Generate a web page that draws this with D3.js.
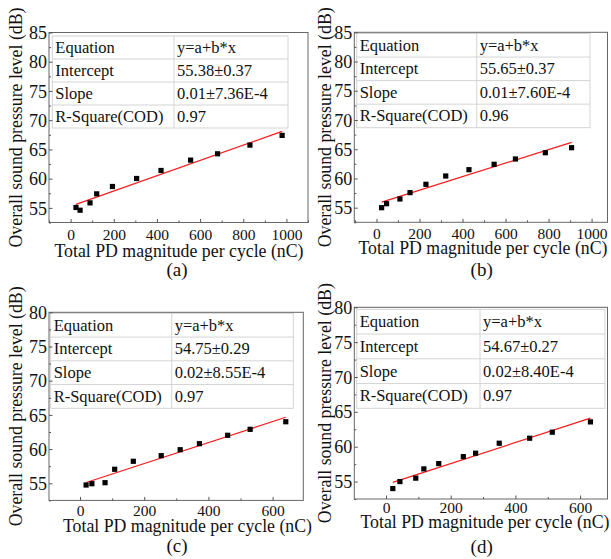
<!DOCTYPE html>
<html><head><meta charset="utf-8">
<script src="https://cdn.jsdelivr.net/npm/d3@7"></script>
<style>html,body{margin:0;padding:0;background:#fff}svg{display:block}</style>
</head><body>
<svg id="chart" width="611" height="559"></svg>
<script>
// ---- data ----
const xA = [25, 44, 90, 121, 194, 306, 419, 556, 681, 831, 980];
const yA = [55.07, 54.6, 55.86, 57.4, 58.66, 60.03, 61.4, 63.17, 64.25, 65.74, 67.4];
const xB = [24, 47, 109, 156, 230, 322, 430, 547, 646, 785, 907];
const yB = [55.0, 55.68, 56.49, 57.57, 59.0, 60.42, 61.5, 62.42, 63.33, 64.4, 65.26];
const xC = [19, 37, 78, 108, 166, 253, 312, 372, 460, 530, 641];
const yC = [54.75, 54.94, 55.09, 57.05, 58.22, 59.04, 59.91, 60.79, 62.02, 62.89, 64.0];
const xD = [21, 43, 92, 117, 163, 239, 277, 350, 444, 514, 632];
const yD = [54.0, 55.0, 55.49, 56.82, 57.58, 58.58, 59.07, 60.5, 61.22, 62.08, 63.56];

const xTicksAB = [0, 200, 400, 600, 800, 1000];
const xTicksCD = [0, 200, 400, 600];
const yTicksAB = [55, 60, 65, 70, 75, 80, 85];
const yTicksCD = [55, 60, 65, 70, 75, 80];

const tableKeys = ["Equation", "Intercept", "Slope", "R-Square(COD)"];
const tableA = ["y=a+b*x", "55.38\u00b10.37", "0.01\u00b17.36E-4", "0.97"];
const tableB = ["y=a+b*x", "55.65\u00b10.37", "0.01\u00b17.60E-4", "0.96"];
const tableC = ["y=a+b*x", "54.75\u00b10.29", "0.02\u00b18.55E-4", "0.97"];
const tableD = ["y=a+b*x", "54.67\u00b10.27", "0.02\u00b18.40E-4", "0.97"];

const panelLabels = ["(a)", "(b)", "(c)", "(d)"];
const xTitle = "Total PD magnitude per cycle (nC)";
const yTitle = "Overall sound pressure level (dB)";

// ---- layout ----
const panels = [
  {xs:xA, ys:yA, xt:xTicksAB, yt:yTicksAB, tbl:tableA, lab:panelLabels[0],
   x0:49, x1:308, y0:32.5, y1:222.5, xd:[-100,1100], yd:[52.5,85], minorX:100,
   tb:{l:52.3,t:36,r:288,b:128,c:174}, tickLabY:17.5, titleY:256.5, titleX:179, yTitleX:22, labX:177, labY:276},
  {xs:xB, ys:yB, xt:xTicksAB, yt:yTicksAB, tbl:tableB, lab:panelLabels[1],
   x0:354.3, x1:607.5, y0:32.3, y1:222.3, xd:[-103,1074], yd:[52.5,85], minorX:100,
   tb:{l:356.7,t:33.5,r:590,b:127.7,c:476.7}, tickLabY:17, titleY:253.5, titleX:483, yTitleX:331, labX:481.7, labY:275.5},
  {xs:xC, ys:yC, xt:xTicksCD, yt:yTicksCD, tbl:tableC, lab:panelLabels[2],
   x0:49, x1:303.3, y0:312.3, y1:500.4, xd:[-96.6,695.6], yd:[52.5,80], minorX:100,
   tb:{l:50.7,t:313.3,r:293.3,b:408.3,c:171.7}, tickLabY:16, titleY:531.5, titleX:187.5, yTitleX:22, labX:177, labY:551.5},
  {xs:xD, ys:yD, xt:xTicksCD, yt:yTicksCD, tbl:tableD, lab:panelLabels[3],
   x0:354.3, x1:607.5, y0:307.3, y1:499, xd:[-98,684.7], yd:[52.5,80], minorX:100,
   tb:{l:356.7,t:309.3,r:605,b:408.3,c:480}, tickLabY:14, titleY:528, titleX:485, yTitleX:331, labX:481.7, labY:553}
];

const FONT = "'Liberation Serif','Times New Roman',serif";
const svg = d3.select("#chart");

function fit(xs, ys) {
  const mx = d3.mean(xs), my = d3.mean(ys);
  let sxy = 0, sxx = 0;
  xs.forEach((x, i) => { sxy += (x - mx) * (ys[i] - my); sxx += (x - mx) * (x - mx); });
  const b = sxy / sxx; return {a: my - b * mx, b};
}

panels.forEach(p => {
  const g = svg.append("g");
  const x = d3.scaleLinear().domain(p.xd).range([p.x0, p.x1]);
  const y = d3.scaleLinear().domain(p.yd).range([p.y1, p.y0]);

  // table (drawn behind data)
  const tb = p.tb, rh = (tb.b - tb.t) / 4;
  const tg = g.append("g");
  tg.append("rect").attr("x", tb.l).attr("y", tb.t).attr("width", tb.r - tb.l).attr("height", tb.b - tb.t)
    .attr("fill", "#fff").attr("stroke", "#d4d4d4").attr("stroke-width", 1);
  for (let i = 1; i < 4; i++) {
    tg.append("line").attr("x1", tb.l).attr("x2", tb.r).attr("y1", tb.t + rh * i).attr("y2", tb.t + rh * i)
      .attr("stroke", "#d4d4d4");
  }
  tg.append("line").attr("x1", tb.c).attr("x2", tb.c).attr("y1", tb.t).attr("y2", tb.b).attr("stroke", "#d4d4d4");
  tableKeys.forEach((k, i) => {
    tg.append("text").attr("x", tb.l + 3).attr("y", tb.t + rh * i + rh / 2 + 5.5)
      .attr("font-family", FONT).attr("font-size", 16.5).attr("fill", "#111").text(k);
    tg.append("text").attr("x", tb.c + 3).attr("y", tb.t + rh * i + rh / 2 + 5.5)
      .attr("font-family", FONT).attr("font-size", 16.5).attr("fill", "#111").text(p.tbl[i]);
  });

  // fit line
  const f = fit(p.xs, p.ys);
  const xmin = d3.min(p.xs), xmax = d3.max(p.xs);
  g.append("line").attr("x1", x(xmin)).attr("y1", y(f.a + f.b * xmin))
    .attr("x2", x(xmax)).attr("y2", y(f.a + f.b * xmax))
    .attr("stroke", "#ff1a1a").attr("stroke-width", 1.2);

  // points
  g.selectAll("rect.pt").data(p.xs).join("rect").attr("class", "pt")
    .attr("x", (d) => x(d) - 2.6).attr("y", (d, i) => y(p.ys[i]) - 2.6)
    .attr("width", 5.2).attr("height", 5.2).attr("fill", "#000");

  // frame
  g.append("rect").attr("x", p.x0).attr("y", p.y0).attr("width", p.x1 - p.x0).attr("height", p.y1 - p.y0)
    .attr("fill", "none").attr("stroke", "#666").attr("stroke-width", 1);

  // x axis
  const minorXT = d3.range(Math.ceil(p.xd[0] / p.minorX) * p.minorX, p.xd[1] + 0.01, p.minorX).filter(v => v % 200 !== 0);
  const gxm = g.append("g").attr("transform", `translate(0,${p.y1})`)
    .call(d3.axisBottom(x).tickValues(minorXT).tickSize(-2).tickFormat(""));
  const gx = g.append("g").attr("transform", `translate(0,${p.y1})`)
    .call(d3.axisBottom(x).tickValues(p.xt).tickSize(-3.5).tickFormat(d3.format("d")));
  [gx, gxm].forEach(a => { a.select(".domain").remove(); a.selectAll("line").attr("stroke", "#555"); });
  gx.selectAll("text").attr("y", p.tickLabY).attr("dy", 0).attr("font-family", FONT).attr("font-size", 15.5)
    .attr("fill", "#111");

  // y axis
  const minorYT = d3.range(p.yd[0], p.yd[1] + 0.01, 2.5).filter(v => v % 5 !== 0);
  const gym = g.append("g").attr("transform", `translate(${p.x0},0)`)
    .call(d3.axisLeft(y).tickValues(minorYT).tickSize(-2).tickFormat(""));
  const gy = g.append("g").attr("transform", `translate(${p.x0},0)`)
    .call(d3.axisLeft(y).tickValues(p.yt).tickSize(-3.5).tickFormat(d3.format("d")));
  [gy, gym].forEach(a => { a.select(".domain").remove(); a.selectAll("line").attr("stroke", "#555"); });
  gy.selectAll("text").attr("x", -2).attr("dy", "0.34em").attr("font-family", FONT).attr("font-size", 18)
    .attr("fill", "#111");

  // titles
  g.append("text").attr("x", p.titleX).attr("y", p.titleY).attr("text-anchor", "middle")
    .attr("font-family", FONT).attr("font-size", 17.8).attr("fill", "#111").text(xTitle);
  const cy = (p.y0 + p.y1) / 2;
  g.append("text").attr("transform", `translate(${p.yTitleX},${cy}) rotate(-90)`).attr("text-anchor", "middle")
    .attr("font-family", FONT).attr("font-size", 17.8).attr("fill", "#111").text(yTitle);
  g.append("text").attr("x", p.labX).attr("y", p.labY).attr("text-anchor", "middle")
    .attr("font-family", FONT).attr("font-size", 19).attr("fill", "#111").text(p.lab);
});
</script>
</body></html>
